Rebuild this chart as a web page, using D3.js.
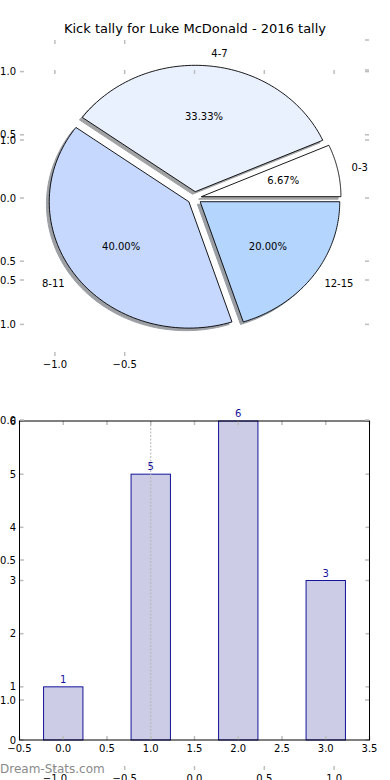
<!DOCTYPE html>
<html>
<head>
<meta charset="utf-8">
<script src="https://cdn.jsdelivr.net/npm/d3@7"></script>
<style>
  html, body { margin: 0; padding: 0; background: #fff; }
  svg { display: block; }
  text { font-family: "DejaVu Sans", sans-serif; }
</style>
</head>
<body>
<svg id="chart" width="390" height="780"></svg>
<script>
// ---- data ----
const titleText = "Kick tally for Luke McDonald - 2016 tally";
const categories = ["0-3", "4-7", "8-11", "12-15"];
const kicks = [1, 5, 6, 3];
const pieColors = ["#ffffff", "#eaf1fe", "#c6d8fe", "#b4d5fe"];
const explode = [0.05, 0.05, 0.05, 0.05];
const barPositions = [0, 1, 2, 3];
const barValues = [1, 5, 6, 3];
const pieTicks = [-1.0, -0.5, 0.0, 0.5, 1.0];
const pieBottomTicks = [-1.0, -0.5];
const barXTicks = [-0.5, 0, 0.5, 1, 1.5, 2, 2.5, 3, 3.5];
const barYTicks = [0, 1, 2, 3, 4, 5, 6];
const watermark = "Dream-Stats.com";

const svg = d3.select("#chart");
const fmt1 = d => (d < 0 ? "\u2212" : "") + Math.abs(d).toFixed(1);
const tickColor = "#bdbdbd";

// ---- scales ----
const xPie = d3.scaleLinear().domain([-1.25, 1.25]).range([20, 369]);
const yPie = d3.scaleLinear().domain([-1.25, 1.25]).range([356, 40]);
const yGhost = d3.scaleLinear().domain([-1.25, 1.25]).range([770, 70]);
const xBar = d3.scaleLinear().domain([-0.5, 3.5]).range([19.5, 369.5]);
const yBar = d3.scaleLinear().domain([0, 6]).range([740, 421]);

// ---- bar axes (drawn first, background) ----
const gBar = svg.append("g");
gBar.append("rect").attr("x", xBar(-0.5)).attr("y", yBar(6))
  .attr("width", xBar(3.5) - xBar(-0.5)).attr("height", yBar(0) - yBar(6))
  .attr("fill", "#fff");
const barW = 0.45;
gBar.selectAll("rect.bar").data(barPositions).join("rect").attr("class", "bar")
  .attr("x", (d) => xBar(d - barW / 2))
  .attr("y", (d, i) => yBar(barValues[i]))
  .attr("width", xBar(barW) - xBar(0))
  .attr("height", (d, i) => yBar(0) - yBar(barValues[i]))
  .attr("fill", "#ccccE6").attr("stroke", "#14149a").attr("stroke-width", 1);
// dotted guide
gBar.append("line").attr("x1", xBar(1)).attr("x2", xBar(1))
  .attr("y1", yBar(6)).attr("y2", yBar(0))
  .attr("stroke", "#b5b5b5").attr("stroke-width", 1).attr("stroke-dasharray", "2,1.5");
// value labels
gBar.selectAll("text.val").data(barPositions).join("text").attr("class", "val")
  .attr("x", d => xBar(d)).attr("y", (d, i) => yBar(barValues[i]) - 4)
  .attr("text-anchor", "middle").attr("font-size", 10).attr("fill", "#14149a")
  .text((d, i) => barValues[i]);
// ticks
barXTicks.forEach(t => {
  gBar.append("line").attr("x1", xBar(t)).attr("x2", xBar(t)).attr("y1", yBar(0)).attr("y2", yBar(0) - 4)
    .attr("stroke", tickColor).attr("stroke-width", 1.5);
  gBar.append("line").attr("x1", xBar(t)).attr("x2", xBar(t)).attr("y1", yBar(6)).attr("y2", yBar(6) + 4)
    .attr("stroke", tickColor).attr("stroke-width", 1.5);
  gBar.append("text").attr("x", xBar(t)).attr("y", yBar(0) + 11.5)
    .attr("text-anchor", "middle").attr("font-size", 10).attr("fill", "#000").text(fmt1(t));
});
barYTicks.forEach(t => {
  gBar.append("line").attr("x1", xBar(-0.5)).attr("x2", xBar(-0.5) + 4).attr("y1", yBar(t)).attr("y2", yBar(t))
    .attr("stroke", tickColor).attr("stroke-width", 1.5);
  gBar.append("line").attr("x1", xBar(3.5)).attr("x2", xBar(3.5) - 4).attr("y1", yBar(t)).attr("y2", yBar(t))
    .attr("stroke", tickColor).attr("stroke-width", 1.5);
  gBar.append("text").attr("x", 16).attr("y", yBar(t)).attr("dy", "0.35em")
    .attr("text-anchor", "end").attr("font-size", 10).attr("fill", "#000").text(t);
});
gBar.append("rect").attr("x", xBar(-0.5)).attr("y", yBar(6))
  .attr("width", xBar(3.5) - xBar(-0.5)).attr("height", yBar(0) - yBar(6))
  .attr("fill", "none").attr("stroke", "#000").attr("stroke-width", 1);

// ---- pie axes ----
const gPie = svg.append("g");
const pieGen = d3.pie().sort(null).value(d => d);
const arcs = pieGen(kicks);
const wedges = arcs.map((a, i) => {
  const t1 = a.startAngle, t2 = a.endAngle; // measured counter-clockwise from east
  const tm = (t1 + t2) / 2;
  return {
    i, t1, t2, tm,
    cx: explode[i] * Math.cos(tm), cy: explode[i] * Math.sin(tm)
  };
});
function wedgePath(w, ox, oy) {
  const n = 80;
  const pts = [[xPie(w.cx + ox), yPie(w.cy + oy)]];
  for (let k = 0; k <= n; k++) {
    const t = w.t1 + (w.t2 - w.t1) * k / n;
    pts.push([xPie(w.cx + ox + Math.cos(t)), yPie(w.cy + oy + Math.sin(t))]);
  }
  return d3.line()(pts) + "Z";
}
// shadows
wedges.forEach(w => {
  const c = d3.rgb(pieColors[w.i]);
  const sc = d3.rgb(c.r * 0.3, c.g * 0.3, c.b * 0.3);
  gPie.append("path").attr("d", wedgePath(w, -0.02, -0.02))
    .attr("fill", sc).attr("stroke", sc).attr("stroke-width", 1).attr("opacity", 0.5);
});
// wedges
wedges.forEach(w => {
  gPie.append("path").attr("d", wedgePath(w, 0, 0))
    .attr("fill", pieColors[w.i]).attr("stroke", "#000").attr("stroke-width", 0.9)
    .attr("stroke-linejoin", "miter");
});
// labels
const total = d3.sum(kicks);
wedges.forEach(w => {
  const xt = w.cx + 1.1 * Math.cos(w.tm), yt = w.cy + 1.1 * Math.sin(w.tm);
  gPie.append("text").attr("x", xPie(xt)).attr("y", yPie(yt)).attr("dy", "0.35em")
    .attr("text-anchor", xt > 0 ? "start" : "end").attr("font-size", 10).attr("fill", "#000")
    .text(categories[w.i]);
  const xp = w.cx + 0.6 * Math.cos(w.tm), yp = w.cy + 0.6 * Math.sin(w.tm);
  gPie.append("text").attr("x", xPie(xp)).attr("y", yPie(yp)).attr("dy", "0.35em")
    .attr("text-anchor", "middle").attr("font-size", 10).attr("fill", "#000")
    .text((100 * kicks[w.i] / total).toFixed(2) + "%");
});
// pie axes ticks
pieTicks.forEach(t => {
  gPie.append("line").attr("x1", 20).attr("x2", 24).attr("y1", yPie(t)).attr("y2", yPie(t))
    .attr("stroke", tickColor).attr("stroke-width", 1.5);
  gPie.append("line").attr("x1", 369).attr("x2", 365).attr("y1", yPie(t)).attr("y2", yPie(t))
    .attr("stroke", tickColor).attr("stroke-width", 1.5);
  gPie.append("text").attr("x", 16).attr("y", yPie(t)).attr("dy", "0.35em")
    .attr("text-anchor", "end").attr("font-size", 10).attr("fill", "#000").text(fmt1(t));
});
pieBottomTicks.forEach(t => {
  gPie.append("line").attr("x1", xPie(t)).attr("x2", xPie(t)).attr("y1", yPie(-1.25)).attr("y2", yPie(-1.25) - 4)
    .attr("stroke", tickColor).attr("stroke-width", 1.5);
  gPie.append("line").attr("x1", xPie(t)).attr("x2", xPie(t)).attr("y1", yPie(1.25)).attr("y2", yPie(1.25) + 4)
    .attr("stroke", tickColor).attr("stroke-width", 1.5);
  gPie.append("text").attr("x", xPie(t)).attr("y", yPie(-1.25) + 11.5)
    .attr("text-anchor", "middle").attr("font-size", 10).attr("fill", "#000").text(fmt1(t));
});
gPie.append("line").attr("x1", 369).attr("x2", 365).attr("y1", yPie(1.25)).attr("y2", yPie(1.25))
  .attr("stroke", tickColor).attr("stroke-width", 1.5);

// ---- ghost axes (frameless, spans both) ----
const gGhost = svg.append("g");
pieTicks.forEach(t => {
  gGhost.append("line").attr("x1", 20).attr("x2", 24).attr("y1", yGhost(t)).attr("y2", yGhost(t))
    .attr("stroke", tickColor).attr("stroke-width", 1.5);
  gGhost.append("line").attr("x1", 369).attr("x2", 365).attr("y1", yGhost(t)).attr("y2", yGhost(t))
    .attr("stroke", tickColor).attr("stroke-width", 1.5);
  gGhost.append("text").attr("x", 16).attr("y", yGhost(t)).attr("dy", "0.35em")
    .attr("text-anchor", "end").attr("font-size", 10).attr("fill", "#000").text(fmt1(t));
  gGhost.append("line").attr("x1", xPie(t)).attr("x2", xPie(t)).attr("y1", yGhost(1.25)).attr("y2", yGhost(1.25) + 4)
    .attr("stroke", tickColor).attr("stroke-width", 1.5);
  gGhost.append("line").attr("x1", xPie(t)).attr("x2", xPie(t)).attr("y1", yGhost(-1.25)).attr("y2", yGhost(-1.25) - 4)
    .attr("stroke", tickColor).attr("stroke-width", 1.5);
  gGhost.append("text").attr("x", xPie(t)).attr("y", yGhost(-1.25) + 11.5)
    .attr("text-anchor", "middle").attr("font-size", 10).attr("fill", "#000").text(fmt1(t));
});
gGhost.append("line").attr("x1", 369).attr("x2", 365).attr("y1", yGhost(1.25)).attr("y2", yGhost(1.25))
  .attr("stroke", tickColor).attr("stroke-width", 1.5);

// ---- title & watermark ----
svg.append("text").attr("x", 195).attr("y", 33).attr("text-anchor", "middle")
  .attr("font-size", 13).attr("fill", "#000").text(titleText);
svg.append("text").attr("x", 0).attr("y", 773).attr("font-size", 12)
  .attr("fill", "#8a8a8a").text(watermark);
</script>
</body>
</html>
